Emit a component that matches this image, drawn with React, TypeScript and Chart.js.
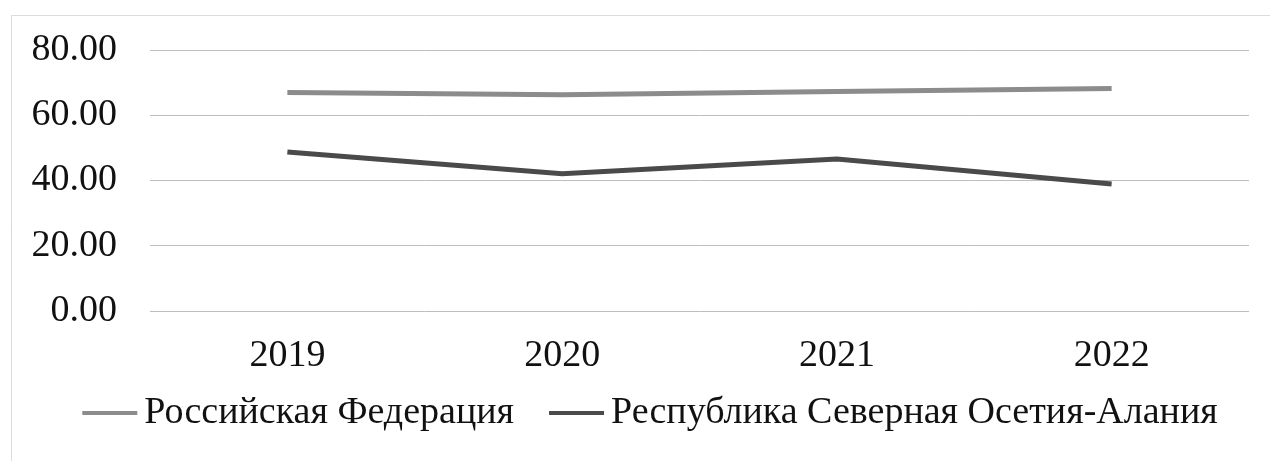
import React, { useEffect, useRef } from "react";
import { Chart, registerables } from "chart.js";

Chart.register(...registerables);

const categories = ["2019", "2020", "2021", "2022"];
const seriesNames = ["Российская Федерация", "Республика Северная Осетия-Алания"];
const russiaValues = [67.0, 66.3, 67.3, 68.2];
const ossetiaValues = [48.7, 42.1, 46.6, 38.9];
const seriesColors = ["#8c8c8c", "#4a4a4a"];
const yTicks = [0, 20, 40, 60, 80];

const FONT = "'Liberation Serif', 'Times New Roman', serif";
const FONT_SIZE = 38;
const PLOT_TOP = 50;

const framePlugin = {
  id: "frame",
  beforeDraw(chart: any) {
    const ctx = chart.ctx;
    ctx.save();
    ctx.strokeStyle = "#b8b8b8";
    ctx.lineWidth = 1;
    ctx.setLineDash([1, 1]);
    ctx.strokeRect(11.5, 15.5, chart.width + 20, chart.height + 20);
    ctx.restore();
  },
};

const topFixPlugin = {
  id: "topFix",
  afterLayout(chart: any) {
    const area = chart.chartArea;
    const ys = chart.scales.y;
    if (!area || !ys || Math.abs(area.top - PLOT_TOP) < 0.5) return;
    area.top = PLOT_TOP;
    area.height = area.bottom - area.top;
    ys.top = PLOT_TOP;
    ys.height = ys.bottom - ys.top;
    ys.configure();
  },
};

const legendPlugin = {
  id: "customLegend",
  afterDraw(chart: any) {
    const ctx = chart.ctx;
    ctx.save();
    ctx.font = `${FONT_SIZE}px ${FONT}`;
    ctx.textBaseline = "middle";
    const lineW = 55;
    const gapText = 7;
    const gapItem = 35;
    const widths = chart.data.datasets.map((d: any) => ctx.measureText(d.label).width);
    let total = 0;
    widths.forEach((w: number, i: number) => {
      total += lineW + gapText + w + (i > 0 ? gapItem : 0);
    });
    let x = chart.width / 2 + 15 - total / 2;
    const y = 413;
    chart.data.datasets.forEach((d: any, i: number) => {
      ctx.strokeStyle = d.borderColor;
      ctx.lineWidth = 4;
      ctx.beginPath();
      ctx.moveTo(x, y);
      ctx.lineTo(x + lineW, y);
      ctx.stroke();
      ctx.fillStyle = "#111";
      ctx.fillText(d.label, x + lineW + gapText, y);
      x += lineW + gapText + widths[i] + gapItem;
    });
    ctx.restore();
  },
};

export default function App() {
  const ref = useRef<HTMLCanvasElement>(null);
  useEffect(() => {
    if (!ref.current) return;
    const chart = new Chart(ref.current, {
      type: "line",
      data: {
        labels: categories,
        datasets: [
          {
            label: seriesNames[0],
            data: russiaValues,
            borderColor: seriesColors[0],
            backgroundColor: seriesColors[0],
            borderWidth: 5,
            pointRadius: 0,
            tension: 0,
          },
          {
            label: seriesNames[1],
            data: ossetiaValues,
            borderColor: seriesColors[1],
            backgroundColor: seriesColors[1],
            borderWidth: 5,
            pointRadius: 0,
            tension: 0,
          },
        ],
      },
      options: {
        animation: false,
        responsive: false,
        maintainAspectRatio: false,
        layout: { padding: { left: 0, right: 21, top: PLOT_TOP, bottom: 80 } },
        plugins: {
          legend: { display: false },
          tooltip: { enabled: false },
        },
        scales: {
          x: {
            offset: true,
            grid: { display: false, drawTicks: false },
            border: { display: false },
            ticks: {
              color: "#111",
              font: { family: FONT, size: FONT_SIZE },
              padding: 22,
              maxRotation: 0,
            },
            afterFit(scale: any) {
              scale.height = 70;
            },
          },
          y: {
            min: 0,
            max: 80,
            afterBuildTicks(scale: any) {
              scale.ticks = yTicks.map((v) => ({ value: v }));
            },
            grid: {
              color: "#bdbdbd",
              lineWidth: 1,
              drawTicks: false,
            },
            border: { display: false },
            ticks: {
              color: "#111",
              font: { family: FONT, size: FONT_SIZE },
              padding: 33,
              callback: (v: any) => Number(v).toFixed(2),
            },
            afterFit(scale: any) {
              scale.width = 150;
            },
          },
        },
      },
      plugins: [framePlugin, topFixPlugin, legendPlugin],
    });
    return () => chart.destroy();
  }, []);
  return (
    <div style={{ position: "fixed", left: 0, top: 0, width: 1270, height: 461, background: "#fff", overflow: "hidden" }}>
      <canvas ref={ref} width={1270} height={461} style={{ display: "block" }} />
    </div>
  );
}
